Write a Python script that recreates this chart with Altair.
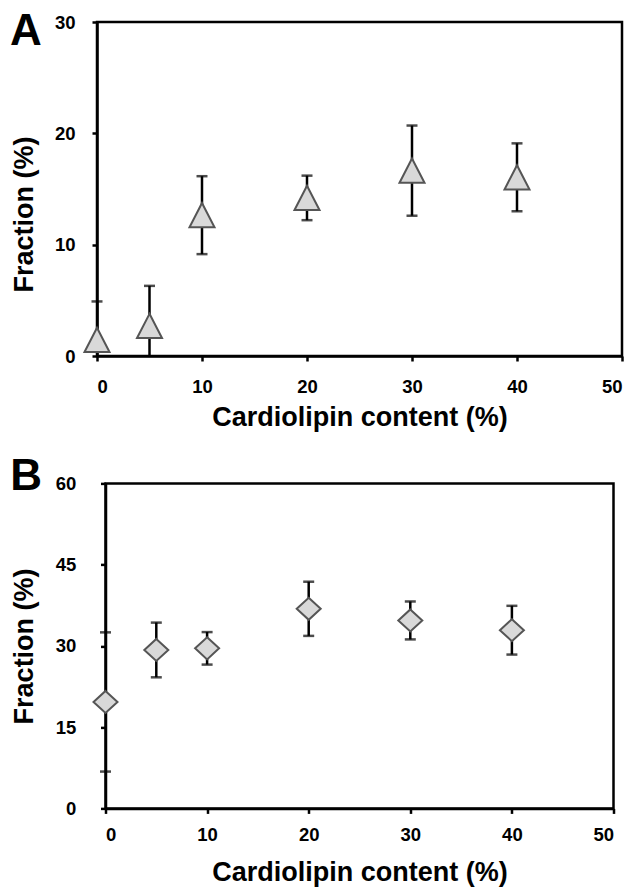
import altair as alt
import pandas as pd

# ---- data ----
content = [0, 5, 10, 20, 30, 40]
frac_a = [1.45, 2.7, 12.65, 14.2, 16.65, 16.05]
err_a = [3.45, 3.6, 3.5, 2.0, 4.05, 3.05]
frac_b = [19.65, 29.25, 29.55, 36.85, 34.7, 32.9]
err_b = [12.85, 5.05, 3.0, 5.0, 3.5, 4.5]
x_ticks = [0, 10, 20, 30, 40, 50]
y_ticks_a = [0, 10, 20, 30]
y_ticks_b = [0, 15, 30, 45, 60]
x_title = "Cardiolipin content (%)"
y_title = "Fraction (%)"

FONT = "Liberation Sans"
TRIANGLE = "M0,-0.97L1,0.97L-1,0.97Z"
DIAMOND = "M0,-0.92L1,0L0,0.92L-1,0Z"


def panel(vals, errs, ymax, yticks, shape, size, letter, w, h, lx, ly,
          ylab_pad, ytitle_x, ytitle_y, xlab_pad, xtitle_y):
    df = pd.DataFrame({"x": content, "y": vals, "e": errs})
    base = alt.Chart(df).transform_calculate(
        lo="max(datum.y - datum.e, 0)", hi="datum.y + datum.e",
        raw_lo="datum.y - datum.e")
    xs = alt.Scale(domain=[0, 50], nice=False, zero=False)
    ys = alt.Scale(domain=[0, ymax], nice=False, zero=False)
    yax_kwargs = dict(
        values=yticks, title=y_title, grid=False,
        labelFont=FONT, labelFontSize=18.5, labelFontWeight="bold", labelColor="black",
        labelPadding=ylab_pad,
        titleFont=FONT, titleFontSize=27, titleFontWeight="bold", titleColor="black",
        titleX=ytitle_x, titleBaseline="alphabetic",
        domainColor="black", domainWidth=2.5, tickColor="black", tickWidth=2.5,
        tickSize=5,
    )
    if ytitle_y is not None:
        yax_kwargs["titleY"] = ytitle_y
    yax = alt.Axis(**yax_kwargs)
    xax = alt.Axis(
        values=x_ticks, title=x_title, grid=False,
        labelFont=FONT, labelFontSize=18.5, labelFontWeight="bold", labelColor="black",
        labelPadding=xlab_pad,
        titleFont=FONT, titleFontSize=27, titleFontWeight="bold", titleColor="black",
        titleY=xtitle_y, titleBaseline="alphabetic",
        domainColor="black", domainWidth=2.5, tickColor="black", tickWidth=2.5,
        tickSize=5,
    )
    rule = base.mark_rule(color="black", strokeWidth=2.5, clip=True).encode(
        x=alt.X("x:Q", scale=xs, axis=xax),
        y=alt.Y("lo:Q", scale=ys, axis=yax),
        y2="hi:Q",
    )
    cap_hi = base.mark_tick(color="black", thickness=2.5, size=11,
                            orient="horizontal").encode(
        x="x:Q", y="hi:Q")
    cap_lo = base.transform_filter("datum.raw_lo >= 0").mark_tick(
        color="black", thickness=2.5, size=11, orient="horizontal").encode(
        x="x:Q", y="lo:Q")
    pts = base.mark_point(shape=shape, size=size, filled=True, fill="#d9d9d9",
                          stroke="#555555", strokeWidth=2, opacity=1).encode(
        x="x:Q", y="y:Q")
    lab = alt.Chart(pd.DataFrame({"t": [letter]})).mark_text(
        font=FONT, fontSize=44, fontWeight="bold", color="black",
        align="left", baseline="top").encode(
        text="t:N", x=alt.value(lx), y=alt.value(ly))
    return alt.layer(rule, cap_hi, cap_lo, pts, lab).properties(width=w, height=h)


chart_a = panel(frac_a, err_a, 30, y_ticks_a, TRIANGLE, 625, "A", 525, 334,
                -87, -12.3, 17, -65, 192, 16, 69.7)
chart_b = panel(frac_b, err_b, 60, y_ticks_b, DIAMOND, 576, "B", 508, 325,
                -95.3, -28.2, 24.7, -73.3, None, 12, 72.5)

chart = alt.vconcat(chart_a, chart_b, spacing=127.4, bounds="flush", center=True).resolve_scale(
    x="independent", y="independent"
).properties(
    padding={"left": 0, "top": 0, "right": 0, "bottom": 0},
    background="white",
).configure_view(
    stroke="black", strokeWidth=2.5
)

chart.save("out.html", embed_options={"renderer": "svg", "actions": False})
